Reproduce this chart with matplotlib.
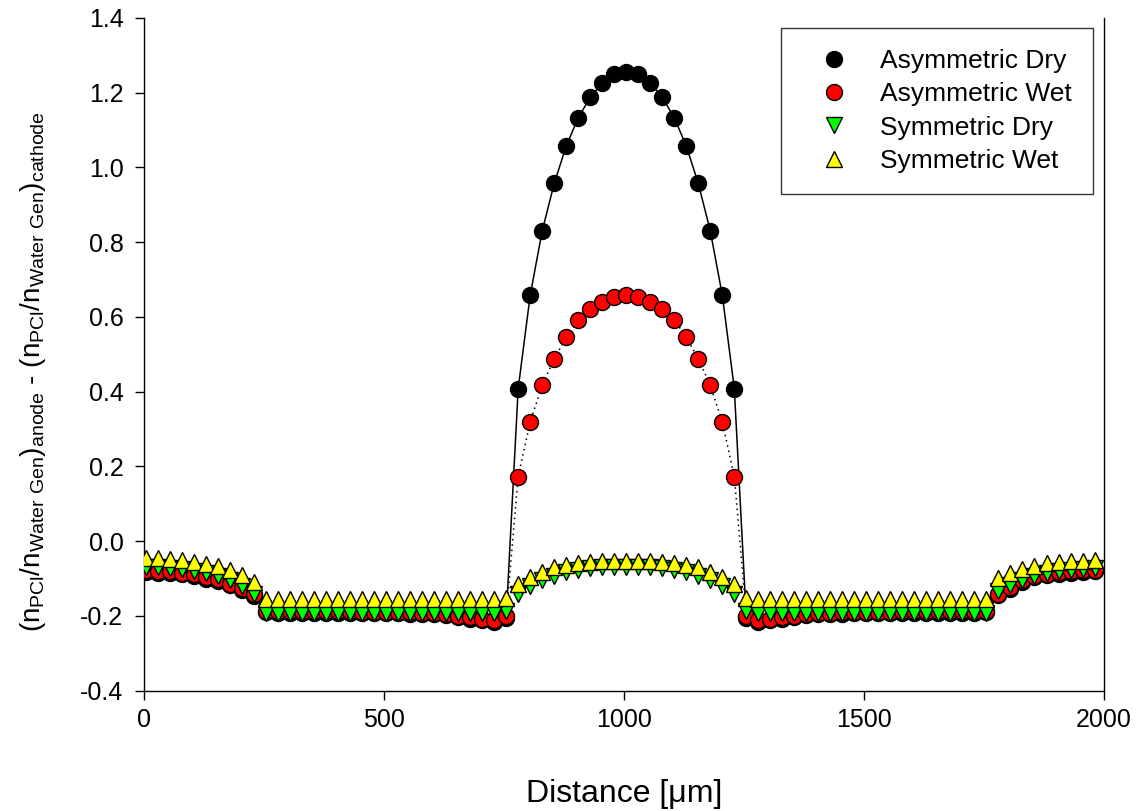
import matplotlib
matplotlib.use('Agg')
import matplotlib.pyplot as plt
import numpy as np

plt.rcParams['font.family'] = ['Liberation Sans', 'DejaVu Sans']
plt.rcParams['mathtext.fontset'] = 'custom'
plt.rcParams['mathtext.rm'] = 'Liberation Sans'
plt.rcParams['mathtext.default'] = 'regular'

# distance grid [um], 25 um spacing
distance = np.arange(5, 2000, 25)

# Asymmetric Dry
asym_dry = ([-0.082, -0.084, -0.085, -0.088, -0.092, -0.100, -0.106, -0.118, -0.130, -0.146]
            + [-0.190, -0.191, -0.191, -0.192, -0.192, -0.192, -0.192, -0.192, -0.192, -0.193,
               -0.193, -0.193, -0.194, -0.194, -0.195]
            + [-0.198, -0.203, -0.208, -0.212, -0.215]
            + [-0.205]
            + [0.408, 0.658, 0.830, 0.957, 1.057, 1.133, 1.187, 1.226, 1.251, 1.256]
            + [1.251, 1.226, 1.187, 1.133, 1.057, 0.957, 0.830, 0.658, 0.408]
            + [-0.205]
            + [-0.215, -0.212, -0.208, -0.203, -0.198]
            + [-0.195, -0.194, -0.194, -0.193, -0.193, -0.193, -0.192, -0.192, -0.192, -0.192,
               -0.192, -0.192, -0.191, -0.191, -0.190]
            + [-0.145, -0.127, -0.109, -0.096, -0.091, -0.087, -0.084, -0.082, -0.081])

# Asymmetric Wet
asym_wet = ([-0.078, -0.080, -0.081, -0.084, -0.088, -0.096, -0.102, -0.114, -0.126, -0.142]
            + [-0.186, -0.187, -0.187, -0.188, -0.188, -0.188, -0.188, -0.188, -0.189, -0.189,
               -0.189, -0.190, -0.190, -0.191, -0.192]
            + [-0.195, -0.200, -0.204, -0.208, -0.210]
            + [-0.200]
            + [0.173, 0.319, 0.417, 0.488, 0.545, 0.593, 0.620, 0.640, 0.653, 0.658]
            + [0.653, 0.640, 0.620, 0.593, 0.545, 0.488, 0.417, 0.319, 0.173]
            + [-0.200]
            + [-0.210, -0.208, -0.204, -0.200, -0.195]
            + [-0.192, -0.191, -0.190, -0.190, -0.189, -0.189, -0.189, -0.188, -0.188, -0.188,
               -0.188, -0.188, -0.187, -0.187, -0.186]
            + [-0.141, -0.123, -0.105, -0.092, -0.087, -0.083, -0.080, -0.078, -0.077])

# Symmetric Dry
sym_dry = ([-0.070, -0.070, -0.072, -0.075, -0.079, -0.086, -0.092, -0.104, -0.119, -0.141]
           + [-0.192] * 20
           + [-0.188]
           + [-0.141, -0.119, -0.105, -0.092, -0.083, -0.077, -0.072, -0.070, -0.068, -0.068]
           + [-0.068, -0.070, -0.072, -0.077, -0.083, -0.092, -0.105, -0.119, -0.141]
           + [-0.188]
           + [-0.192] * 20
           + [-0.132, -0.116, -0.105, -0.092, -0.086, -0.080, -0.077, -0.075, -0.073])

# Symmetric Wet
sym_wet = ([-0.045, -0.045, -0.048, -0.050, -0.056, -0.061, -0.066, -0.077, -0.090, -0.110]
           + [-0.155] * 20
           + [-0.153]
           + [-0.114, -0.096, -0.082, -0.069, -0.063, -0.058, -0.056, -0.054, -0.052, -0.052]
           + [-0.052, -0.054, -0.056, -0.058, -0.063, -0.069, -0.082, -0.096, -0.114]
           + [-0.153]
           + [-0.155] * 20
           + [-0.098, -0.085, -0.074, -0.066, -0.059, -0.055, -0.053, -0.052, -0.050])

fig = plt.figure(figsize=(11.43, 8.11), dpi=100)
ax = fig.add_axes([0.1256, 0.1483, 0.8404, 0.8297])

ax.plot(distance, asym_dry, '-', color='black', lw=1.1, zorder=2)
ax.plot(distance, asym_wet, color='black', lw=1.1, linestyle=(0, (1, 2.5)), zorder=2)

ax.plot(distance, asym_dry, 'o', ms=11.5, mfc='black', mec='black', mew=1.0,
        label='Asymmetric Dry', zorder=3)
ax.plot(distance, asym_wet, 'o', ms=11.5, mfc='#ff0000', mec='black', mew=1.0,
        label='Asymmetric Wet', zorder=3)
ax.plot(distance, sym_dry, 'v', ms=12, mfc='#00ff00', mec='black', mew=1.0,
        label='Symmetric Dry', zorder=3)
ax.plot(distance, sym_wet, '^', ms=12, mfc='#ffff00', mec='black', mew=1.0,
        label='Symmetric Wet', zorder=3)

ax.set_xlim(0, 2000)
ax.set_ylim(-0.4, 1.4)
ax.set_xticks([0, 500, 1000, 1500, 2000])
ax.set_yticks(np.arange(-0.4, 1.41, 0.2))
ax.set_yticklabels(['-0.4', '-0.2', '0.0', '0.2', '0.4', '0.6', '0.8', '1.0', '1.2', '1.4'])
ax.tick_params(direction='out', length=6.5, width=1.0, labelsize=18)
ax.tick_params(axis='x', pad=6)
ax.tick_params(axis='y', pad=8)
ax.spines['top'].set_visible(False)
for s in ['left', 'bottom', 'right']:
    ax.spines[s].set_linewidth(1.0)

ax.set_xlabel('Distance [\u03bcm]', fontsize=23, labelpad=34)
ax.set_ylabel(r'$(n_{PCl}/n_{Water\ Gen})_{anode}$ - $(n_{PCl}/n_{Water\ Gen})_{cathode}$',
              fontsize=20)
ax.yaxis.set_label_coords(-0.100, 0.474)

leg = ax.legend(loc='upper right', bbox_to_anchor=(0.9885, 0.985), borderaxespad=0,
                fontsize=19, frameon=True, fancybox=False, edgecolor='black',
                borderpad=0.8, handlelength=2.4, handletextpad=0.55, labelspacing=0.35)
leg.get_frame().set_linewidth(1.0)

fig.savefig('out.png', dpi=100)
